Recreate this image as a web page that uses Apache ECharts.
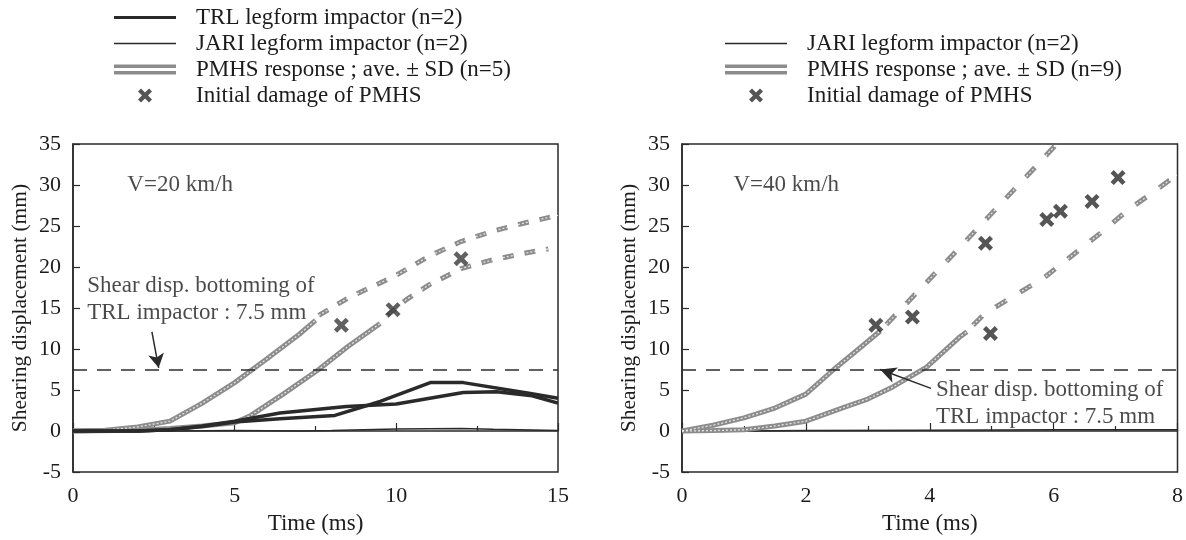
<!DOCTYPE html>
<html>
<head>
<meta charset="utf-8">
<script src="https://cdn.jsdelivr.net/npm/echarts@6/dist/echarts.min.js"></script>
<style>
  html, body { margin: 0; padding: 0; background: #fff; }
  #main { width: 1186px; height: 540px; }
</style>
</head>
<body>
<div id="main"></div>
<script>
// ---- data (time in ms, displacement in mm) ----
const yTicks = [-5, 0, 5, 10, 15, 20, 25, 30, 35];

// V = 20 km/h
const trlA20 = [[0,0],[2,0],[3,0.15],[4,0.55],[5,1.1],[6.4,1.5],[8.1,1.9],[9.5,3.6],[11.05,5.9],[12.07,5.9],[14.1,4.6],[15,4.0]];
const trlB20 = [[0,0],[2,0],[3,0.15],[4,0.6],[5,1.2],[6.4,2.2],[8.46,3.0],[10,3.3],[12.07,4.7],[13.1,4.8],[14.2,4.3],[15,3.4]];
const jari20 = [[0,0],[3,0],[5,0.05],[7,0],[8,0.05],[10,0.25],[12,0.3],[13,0.2],[15,0.05]];
const pmhsUp20 = [[0,0],[1,0.1],[2,0.5],[3,1.2],[4,3.4],[5,5.9],[6,8.8],[7,11.8],[7.5,13.5]];
const pmhsUp20Ext = [[7.6,14.1],[8.5,16.2],[10,19.0],[11,21.3],[12,23.1],[13,24.4],[14,25.4],[15,26.3]];
const pmhsLo20 = [[0,0],[2,0.1],[3,0.3],[4,0.6],[5,1.0],[5.5,1.9],[6.5,4.5],[7.6,7.5],[8.5,10.3],[9.5,13.1]];
const pmhsLo20Ext = [[9.7,14.0],[10.3,16.0],[11,17.8],[12,19.8],[13,20.9],[14,21.7],[14.7,22.2]];
const damage20 = [[8.3,12.9],[9.9,14.8],[12.0,21.0]];

// V = 40 km/h
const jari40 = [[0,0],[1,0],[2,0.05],[4,0.1],[6,0.15],[8,0.15]];
const pmhsUp40 = [[0,0],[0.5,0.7],[1,1.6],[1.5,2.8],[2.0,4.5],[2.45,7.5],[2.9,10.3],[3.2,12.2]];
const pmhsUp40Ext = [[3.3,13.0],[4.35,21.3],[4.97,26.3],[5.73,32.4],[6.05,35]];
const pmhsLo40 = [[0,0],[0.5,0.05],[1,0.15],[1.5,0.6],[2.0,1.2],[2.66,3.0],[3.0,3.9],[3.41,5.4],[3.95,7.8],[4.49,11.5],[4.6,12.1]];
const pmhsLo40Ext = [[4.7,12.9],[4.89,14.35],[5.83,18.6],[6.75,24.1],[7.2,26.95],[7.66,29.4],[8.0,31.3]];
const damage40 = [[3.13,12.9],[3.72,13.9],[4.9,22.9],[4.98,11.9],[5.89,25.8],[6.11,26.8],[6.62,28.0],[7.04,30.9]];

const bottoming = 7.5;

// ---- styling ----
const FONT = 'Liberation Serif';
const TXT = '#1c1c1c';
const INK = '#2a2a2a';
const GRAY = '#8c8c8c';
const crossPath = 'path://M0,3L3,0L7,4L11,0L14,3L10,7L14,11L11,14L7,10L3,14L0,11L4,7Z';

const NAME_TRL = 'TRL legform impactor (n=2)';
const NAME_JARI = 'JARI legform impactor (n=2)';
const NAME_PMHS20 = 'PMHS response ; ave. \u00B1 SD (n=5)';
const NAME_PMHS40 = 'PMHS response ; ave. \u00B1 SD (n=9)';
const NAME_DMG = 'Initial damage of PMHS';

// legend icons drawn in a 77x14 box (line sample is 62 wide)
const bbox = 'M0,0M77,14';
const iconTrl = 'path://' + bbox + 'M0,5.5H62V8.5H0Z';
const iconJari = 'path://' + bbox + 'M0,6.3H62V7.7H0Z';
const iconPmhs = 'path://' + bbox + 'M0,2H62V5.5H0ZM0,8.5H62V12H0Z';
const iconDmg = 'path://' + bbox + 'M24,3L27,0L31,4L35,0L38,3L34,7L38,11L35,14L31,10L27,14L24,11L28,7Z';

function xAxis(gridIndex, max, interval) {
  return {
    gridIndex, type: 'value', min: 0, max, interval,
    name: 'Time (ms)', nameLocation: 'middle', nameGap: 40,
    nameTextStyle: { fontFamily: FONT, fontSize: 23, color: TXT },
    axisLine: { lineStyle: { color: INK, width: 1.5 } },
    axisTick: { inside: true, length: 8, lineStyle: { color: INK, width: 1.2 } },
    minorTick: { show: true, splitNumber: 2, length: 5, lineStyle: { color: INK, width: 1.2 } },
    axisLabel: { fontFamily: FONT, fontSize: 22, color: TXT, margin: 13 },
    splitLine: { show: false }
  };
}
function yAxis(gridIndex) {
  return {
    gridIndex, type: 'value', min: yTicks[0], max: yTicks[yTicks.length - 1], interval: 5,
    name: 'Shearing displacement (mm)', nameLocation: 'middle', nameGap: 42,
    nameTextStyle: { fontFamily: FONT, fontSize: 21.5, color: TXT },
    axisLine: { lineStyle: { color: INK, width: 1.5 } },
    axisTick: { inside: true, length: 7, lineStyle: { color: INK, width: 1.2 } },
    axisLabel: { fontFamily: FONT, fontSize: 22, color: TXT, margin: 12 },
    splitLine: { show: false }
  };
}

function line(name, idx, data, opts) {
  return Object.assign({
    name, type: 'line', xAxisIndex: idx, yAxisIndex: idx, data,
    showSymbol: false, symbol: 'none', silent: true, animation: false,
    itemStyle: { color: INK },
    lineStyle: { color: INK, width: 3.5 }
  }, opts || {});
}
function pmhs(name, idx, data, dashed) {
  return line(name, idx, data, {
    itemStyle: { color: GRAY },
    lineStyle: { color: GRAY, width: 5, type: dashed ? dashed : 'solid', cap: 'butt' }
  });
}
// light speckle over the grey band, mimicking the hatched print texture
function speckle(idx, data) {
  return {
    type: 'line', xAxisIndex: idx, yAxisIndex: idx, data, z: 3,
    showSymbol: false, symbol: 'none', silent: true, animation: false,
    lineStyle: { color: 'rgba(255,255,255,0.75)', width: 1.3, type: [2, 2] }
  };
}
function damage(name, idx, data, color) {
  return {
    name, type: 'scatter', xAxisIndex: idx, yAxisIndex: idx, data,
    symbol: crossPath, symbolSize: 15, itemStyle: { color }, silent: true, animation: false, z: 5
  };
}
function note(idx, text, at, arrowFrom, arrowTo, headSize) {
  return {
    type: 'scatter', xAxisIndex: idx, yAxisIndex: idx, silent: true, animation: false,
    symbolSize: 0, data: [at],
    label: {
      show: true, position: [0, 0], align: 'left', verticalAlign: 'middle',
      formatter: text, fontFamily: FONT, fontSize: 23, lineHeight: 27, color: TXT
    },
    markLine: arrowFrom ? {
      silent: true, animation: false, symbol: ['none', 'arrow'], symbolSize: headSize,
      label: { show: false },
      lineStyle: { color: INK, width: 1.5, type: 'solid' },
      data: [[{ coord: arrowFrom }, { coord: arrowTo }]]
    } : undefined
  };
}
function bottomLine() {
  return {
    silent: true, animation: false, symbol: 'none', label: { show: false },
    lineStyle: { color: '#2e2e2e', width: 1.6, type: [14, 10] },
    data: [{ yAxis: bottoming }]
  };
}

const legendText = { fontFamily: FONT, fontSize: 23, lineHeight: 23, color: TXT };

const chart = echarts.init(document.getElementById('main'), null, { renderer: 'canvas' });
chart.setOption({
  backgroundColor: '#fff',
  animation: false,
  grid: [
    { left: 73, top: 144, width: 485, height: 328, show: true, borderColor: INK, borderWidth: 1.5, backgroundColor: 'transparent' },
    { left: 682, top: 144, width: 496, height: 328, show: true, borderColor: INK, borderWidth: 1.5, backgroundColor: 'transparent' }
  ],
  legend: [
    {
      orient: 'vertical', left: 114, top: 6, padding: 0, itemGap: 3,
      itemWidth: 77, itemHeight: 14, selectedMode: false, textStyle: legendText,
      data: [
        { name: NAME_TRL, icon: iconTrl, itemStyle: { color: INK, borderWidth: 0 } },
        { name: NAME_JARI, icon: iconJari, itemStyle: { color: INK, borderWidth: 0 } },
        { name: NAME_PMHS20, icon: iconPmhs, itemStyle: { color: GRAY, borderWidth: 0 } },
        { name: NAME_DMG, icon: iconDmg, itemStyle: { color: INK, borderWidth: 0 } }
      ]
    },
    {
      orient: 'vertical', left: 725, top: 32, padding: 0, itemGap: 3,
      itemWidth: 77, itemHeight: 14, selectedMode: false, textStyle: legendText,
      data: [
        { name: NAME_JARI, icon: iconJari, itemStyle: { color: INK, borderWidth: 0 } },
        { name: NAME_PMHS40, icon: iconPmhs, itemStyle: { color: GRAY, borderWidth: 0 } },
        { name: NAME_DMG, icon: iconDmg, itemStyle: { color: INK, borderWidth: 0 } }
      ]
    }
  ],
  xAxis: [xAxis(0, 15, 5), xAxis(1, 8, 2)],
  yAxis: [yAxis(0), yAxis(1)],
  series: [
    // V = 20 km/h
    line(NAME_JARI, 0, jari20, { lineStyle: { color: INK, width: 1.5 }, markLine: bottomLine() }),
    pmhs(NAME_PMHS20, 0, pmhsUp20),
    pmhs(NAME_PMHS20, 0, pmhsUp20Ext, [11, 11]),
    pmhs(NAME_PMHS20, 0, pmhsLo20),
    pmhs(NAME_PMHS20, 0, pmhsLo20Ext, [11, 11]),
    speckle(0, pmhsUp20), speckle(0, pmhsUp20Ext), speckle(0, pmhsLo20), speckle(0, pmhsLo20Ext),
    line(NAME_TRL, 0, trlA20, { z: 4 }),
    line(NAME_TRL, 0, trlB20, { z: 4 }),
    damage(NAME_DMG, 0, damage20, '#383838'),
    note(0, 'V=20 km/h', [1.68, 30]),
    note(0, 'Shear disp. bottoming of\nTRL impactor : 7.5 mm', [0.44, 16.0], [2.44, 12.1], [2.65, 7.7], [12, 14]),
    // V = 40 km/h
    line(NAME_JARI, 1, jari40, { lineStyle: { color: INK, width: 1.5 }, markLine: bottomLine() }),
    pmhs(NAME_PMHS40, 1, pmhsUp40),
    pmhs(NAME_PMHS40, 1, pmhsUp40Ext, [13, 16]),
    pmhs(NAME_PMHS40, 1, pmhsLo40),
    pmhs(NAME_PMHS40, 1, pmhsLo40Ext, [13, 16]),
    speckle(1, pmhsUp40), speckle(1, pmhsUp40Ext), speckle(1, pmhsLo40), speckle(1, pmhsLo40Ext),
    damage(NAME_DMG, 1, damage40, INK),
    note(1, 'V=40 km/h', [0.83, 30]),
    note(1, 'Shear disp. bottoming of\nTRL impactor : 7.5 mm', [4.1, 3.35], [4.02, 5.2], [3.2, 7.5], [12, 16])
  ]
});
</script>
</body>
</html>
